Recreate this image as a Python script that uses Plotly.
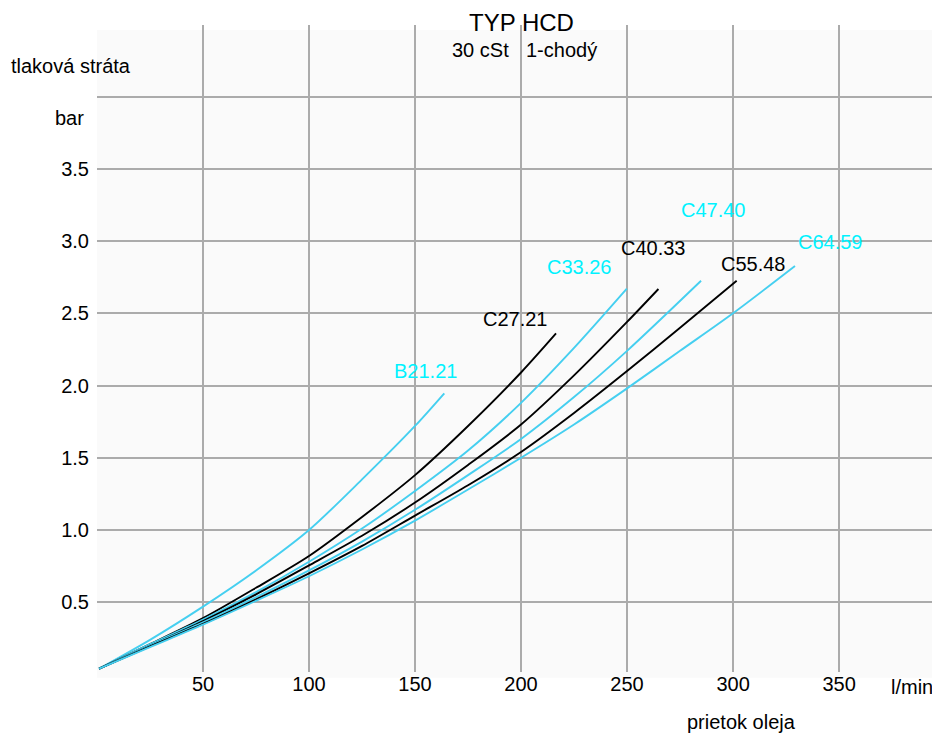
import plotly.graph_objects as go

# ---- data ----
b21_x = [1, 25, 50, 75, 100, 125, 150, 163.8]
b21_y = [0.04, 0.24, 0.47, 0.72, 1.00, 1.35, 1.72, 1.946]

c27_x = [1, 25, 50, 75, 100, 125, 150, 175, 200, 216.5]
c27_y = [0.04, 0.21, 0.39, 0.60, 0.82, 1.09, 1.38, 1.72, 2.09, 2.36]

c33_x = [1, 25, 50, 75, 100, 125, 150, 175, 200, 225, 249.9]
c33_y = [0.04, 0.21, 0.38, 0.57, 0.78, 1.01, 1.27, 1.55, 1.88, 2.26, 2.67]

c40_x = [1, 25, 50, 75, 100, 125, 150, 175, 200, 225, 250, 264.8]
c40_y = [0.04, 0.20, 0.37, 0.555, 0.755, 0.96, 1.19, 1.45, 1.73, 2.07, 2.44, 2.668]

c47_x = [1, 25, 50, 75, 100, 125, 150, 175, 200, 225, 250, 284.9]
c47_y = [0.04, 0.20, 0.36, 0.535, 0.72, 0.92, 1.14, 1.38, 1.63, 1.92, 2.24, 2.725]

c55_x = [1, 25, 50, 75, 100, 125, 150, 175, 200, 225, 250, 275, 301.7]
c55_y = [0.04, 0.195, 0.35, 0.52, 0.70, 0.89, 1.10, 1.31, 1.54, 1.81, 2.10, 2.40, 2.725]

c64_x = [1, 25, 50, 75, 100, 125, 150, 175, 200, 225, 250, 275, 300, 329.2]
c64_y = [0.04, 0.19, 0.345, 0.51, 0.68, 0.865, 1.065, 1.28, 1.50, 1.73, 1.98, 2.24, 2.50, 2.827]

series_names = ["B21.21", "C27.21", "C33.26", "C40.33", "C47.40", "C55.48", "C64.59"]
series_x = [b21_x, c27_x, c33_x, c40_x, c47_x, c55_x, c64_x]
series_y = [b21_y, c27_y, c33_y, c40_y, c47_y, c55_y, c64_y]
series_kind = ["cyan", "black", "cyan", "black", "cyan", "black", "cyan"]

x_ticks = [50, 100, 150, 200, 250, 300, 350]
y_ticks = [0.5, 1.0, 1.5, 2.0, 2.5, 3.0, 3.5, 4.0]
y_ticktext = ["0.5", "1.0", "1.5", "2.0", "2.5", "3.0", "3.5", ""]

# label anchor positions (data coords)
label_pos = {
    "B21.21": (154.7, 2.10),
    "C27.21": (197.4, 2.46),
    "C33.26": (227.4, 2.82),
    "C40.33": (262.3, 2.955),
    "C47.40": (291.0, 3.215),
    "C55.48": (309.4, 2.84),
    "C64.59": (345.8, 2.99),
}

LINE_COL = {"cyan": "#45cff0", "black": "#000000"}
TEXT_COL = {"cyan": "#00f2ff", "black": "#000000"}
FONT = "Liberation Sans, Arial, sans-serif"

fig = go.Figure()
for name, xs, ys, kind in zip(series_names, series_x, series_y, series_kind):
    fig.add_trace(go.Scatter(
        x=xs, y=ys, mode="lines", name=name,
        line=dict(color=LINE_COL[kind], width=1.9, shape="spline", smoothing=0.8),
        showlegend=False, hoverinfo="skip",
    ))

annotations = []
for name, kind in zip(series_names, series_kind):
    lx, ly = label_pos[name]
    annotations.append(dict(x=lx, y=ly, xref="x", yref="y", text=name, showarrow=False,
                            font=dict(family=FONT, size=20, color=TEXT_COL[kind]),
                            xanchor="center", yanchor="middle"))

# page has an 8px body margin: figure is drawn 8px shifted, so work in figure coords
paper_txt = [
    ("TYP HCD", 0.5036, 1.0046, 24, "center"),
    ("30 cSt", 0.4547, 0.9614, 20, "center"),
    ("1-chodý", 0.5516, 0.9614, 20, "center"),
    ("tlaková stráta", -0.0308, 0.9366, 20, "center"),
    ("bar", -0.0125, 0.8563, 20, "right"),
    ("l/min", 0.9664, -0.0232, 20, "center"),
    ("prietok oleja", 0.7648, -0.0773, 20, "center"),
]
for t, px, py, sz, xa in paper_txt:
    annotations.append(dict(x=px, y=py, xref="paper", yref="paper", text=t, showarrow=False,
                            font=dict(family=FONT, size=sz, color="#000000"),
                            xanchor=xa, yanchor="middle"))

fig.update_layout(
    width=932, height=726,
    margin=dict(l=89, r=0, t=17, b=62),
    paper_bgcolor="white", plot_bgcolor="rgba(0,0,0,0)",
    font=dict(family=FONT, size=20, color="#000000"),
    annotations=annotations,
    shapes=[dict(type="rect", xref="paper", yref="paper", x0=0, x1=1, y0=-0.0088, y1=0.9923,
                 fillcolor="#fafafa", line=dict(width=0), layer="below")],
    xaxis=dict(range=[0, 397.6], tickvals=x_ticks, ticktext=[str(v) for v in x_ticks],
               showgrid=True, gridcolor="#ababab", gridwidth=2, zeroline=False, showline=False,
               ticks="", ticklabelstandoff=-2,
               tickfont=dict(family=FONT, size=20, color="#000000")),
    yaxis=dict(range=[0.0173, 4.495], tickvals=y_ticks, ticktext=y_ticktext,
               showgrid=True, gridcolor="#ababab", gridwidth=2, zeroline=False, showline=False,
               ticks="outside", ticklen=3, tickcolor="rgba(0,0,0,0)",
               tickfont=dict(family=FONT, size=20, color="#000000")),
)

fig.write_html("out.html")
